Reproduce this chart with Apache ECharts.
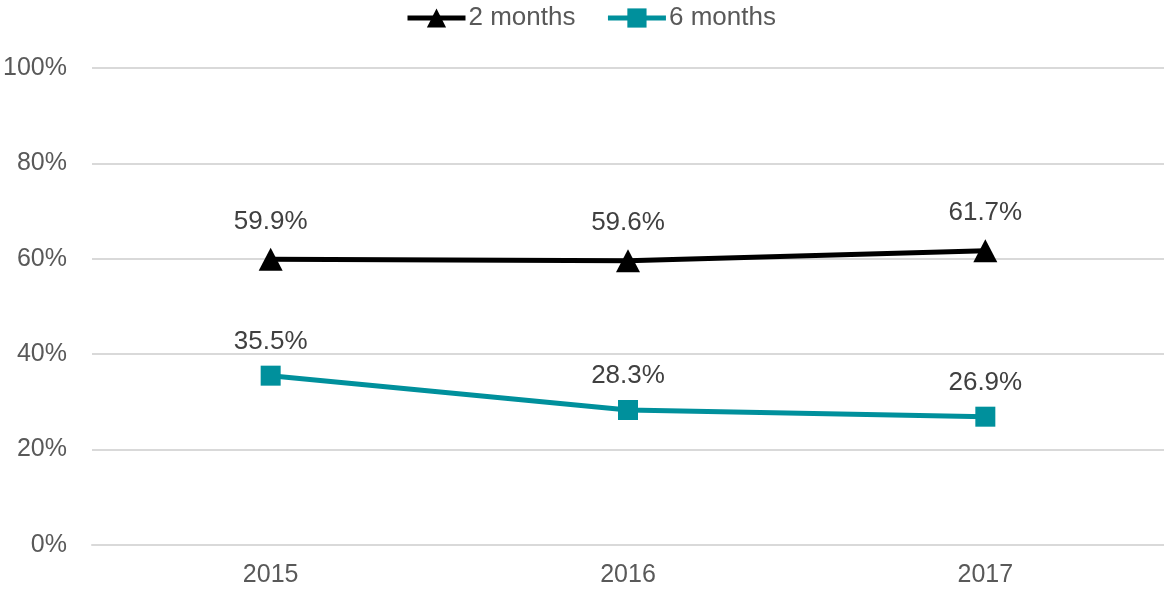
<!DOCTYPE html>
<html>
<head>
<meta charset="utf-8">
<script src="https://cdn.jsdelivr.net/npm/echarts@6/dist/echarts.min.js"></script>
<style>
  html, body { margin: 0; padding: 0; background: #fff; }
  #chart { width: 1164px; height: 590px; }
</style>
</head>
<body>
<div id="chart"></div>
<script>
// Follow-up share by year
const years = ['2015', '2016', '2017'];
const twoMonths = [59.9, 59.6, 61.7];
const sixMonths = [35.5, 28.3, 26.9];
const seriesNames = ['2 months', '6 months'];

const FONT = '"Liberation Sans", Arial, sans-serif';
const chart = echarts.init(document.getElementById('chart'));

chart.setOption({
  animation: false,
  textStyle: { fontFamily: FONT },
  legend: {
    top: 0,
    left: 400,
    itemWidth: 58,
    itemHeight: 24,
    itemGap: 30,
    lineStyle: { width: 5 },
    textStyle: { fontSize: 26, color: '#595959', fontFamily: FONT, padding: [0, 0, 0, -2] },
    data: seriesNames
  },
  grid: { left: 92, right: 0, top: 68, bottom: 45 },
  xAxis: {
    type: 'category',
    data: years,
    boundaryGap: true,
    axisLine: { lineStyle: { color: '#d9d9d9', width: 2 } },
    axisTick: { show: false },
    axisLabel: { fontSize: 25, color: '#595959', margin: 18, fontFamily: FONT }
  },
  yAxis: {
    type: 'value',
    min: 0,
    max: 100,
    interval: 20,
    axisLine: { show: false },
    axisTick: { show: false },
    splitLine: { lineStyle: { color: '#d9d9d9', width: 2 } },
    axisLabel: { fontSize: 25, color: '#595959', margin: 25, formatter: '{value}%', fontFamily: FONT }
  },
  series: [
    {
      name: seriesNames[0],
      type: 'line',
      data: twoMonths,
      symbol: 'triangle',
      symbolSize: [24, 23],
      color: '#000000',
      lineStyle: { width: 5, color: '#000000' },
      itemStyle: { color: '#000000' },
      label: {
        show: true, position: 'top', distance: 13,
        fontSize: 26, color: '#404040', fontFamily: FONT,
        formatter: p => p.value.toFixed(1) + '%'
      }
    },
    {
      name: seriesNames[1],
      type: 'line',
      data: sixMonths,
      symbol: 'rect',
      symbolSize: 20,
      color: '#00909C',
      lineStyle: { width: 5, color: '#00909C' },
      itemStyle: { color: '#00909C' },
      label: {
        show: true, position: 'top', distance: 11,
        fontSize: 26, color: '#404040', fontFamily: FONT,
        formatter: p => p.value.toFixed(1) + '%'
      }
    }
  ]
});
</script>
</body>
</html>
